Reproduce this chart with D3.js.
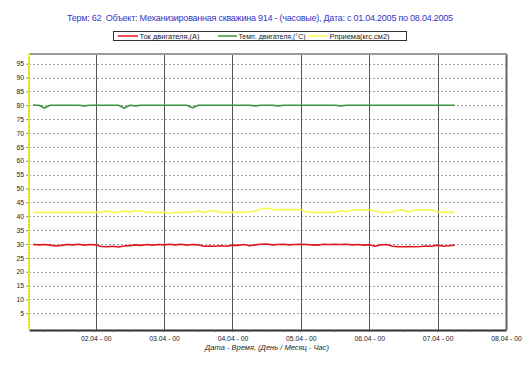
<!DOCTYPE html>
<html>
<head>
<meta charset="utf-8">
<script src="https://cdn.jsdelivr.net/npm/d3@7.9.0/dist/d3.min.js"></script>
<style>
  body { margin: 0; background: #fff; }
  svg { font-family: "Liberation Sans", Arial, sans-serif; }
</style>
</head>
<body>
<svg id="chart" width="523" height="367"></svg>
<script>
// --- data (hourly readings, every 2nd hour) ---
const titleText = 'Терм: 62\u00a0\u00a0Объект: Механизированная скважина 914 - (часовые), Дата: с 01.04.2005 по 08.04.2005';
const seriesNames = ['Ток двигателя,(А)', 'Темп. двигателя,(°С)', 'Рприема(кгс.см2)'];
const seriesColors = ['#e0161e', '#39963a', '#f7f750'];
const yTicks = [5, 10, 15, 20, 25, 30, 35, 40, 45, 50, 55, 60, 65, 70, 75, 80, 85, 90, 95];
const dayTicks = ['02.04 - 00', '03.04 - 00', '04.04 - 00', '05.04 - 00', '06.04 - 00', '07.04 - 00', '08.04 - 00'];

const tokDvig = [29.8, 29.7, 29.8, 29.6, 29.3, 29.5, 29.8, 29.7, 29.9, 29.6, 29.8, 29.7, 29.1, 29.0, 29.2, 28.9,
  29.3, 29.4, 29.7, 29.5, 29.8, 29.6, 29.8, 29.7, 29.9, 29.7, 29.9, 29.6, 29.8, 29.7, 29.2, 29.3,
  29.2, 29.4, 29.2, 29.6, 29.5, 29.8, 29.4, 29.7, 29.9, 30.0, 29.7, 29.8, 29.9, 29.7, 29.8, 29.9,
  29.8, 29.7, 29.6, 29.9, 29.8, 29.9, 29.8, 29.9, 29.7, 29.8, 29.6, 29.7, 29.2, 29.7, 29.8, 29.3,
  29.0, 29.0, 29.1, 29.0, 29.1, 29.3, 29.2, 29.6, 29.2, 29.4, 29.6, 29.3];

const tempDvig = [80.1, 80.0, 79.0, 80.0, 80.0, 80.0, 80.0, 80.0, 80.0, 79.8, 80.0, 80.0, 80.0, 80.0, 80.0, 80.0,
  79.0, 80.0, 79.8, 80.0, 80.0, 80.0, 80.0, 80.0, 80.0, 80.0, 80.0, 80.0, 79.1, 80.0, 80.0, 80.0,
  80.0, 80.0, 80.0, 80.0, 80.0, 80.0, 80.0, 79.8, 80.0, 80.0, 80.0, 79.8, 80.0, 80.0, 80.0, 80.0,
  80.0, 80.0, 80.0, 80.0, 80.0, 80.0, 79.8, 80.0, 80.0, 80.0, 80.0, 80.0, 80.0, 80.0, 80.0, 80.0,
  80.0, 80.0, 80.0, 80.0, 80.0, 80.0, 80.0, 80.0, 80.0, 80.0, 80.0, 80.0];

const pPriema = [41.4, 41.4, 41.4, 41.4, 41.4, 41.4, 41.4, 41.4, 41.4, 41.4, 41.4, 41.4, 41.4, 42.0, 41.4, 41.5,
  41.9, 41.5, 42.0, 41.9, 41.4, 41.4, 41.4, 41.4, 41.0, 41.4, 41.4, 41.4, 41.6, 42.0, 41.4, 41.9,
  42.0, 41.4, 41.4, 41.4, 41.4, 41.5, 41.6, 41.9, 42.6, 43.0, 42.5, 42.4, 42.4, 42.4, 42.4, 42.4,
  41.5, 41.4, 41.4, 41.4, 41.4, 41.4, 42.0, 41.6, 42.3, 42.3, 42.3, 42.3, 42.0, 41.4, 41.4, 41.5,
  42.2, 42.3, 41.6, 42.2, 42.3, 42.3, 42.3, 41.6, 41.4, 41.4, 41.4, 41.4];

// timestamps: 01.04.2005 01:00, every 2 hours
const times = d3.timeHour.every(2).range(new Date(2005, 3, 1, 1), new Date(2005, 3, 7, 8));
const allSeries = [tokDvig, tempDvig, pPriema];

// --- layout ---
const svg = d3.select('#chart');
const mLeft = 29, mRight = 506, mTop = 54, mBottom = 330;

const x = d3.scaleTime()
  .domain([new Date(2005, 3, 1, 0, 36), new Date(2005, 3, 8, 0)])
  .range([mLeft, mRight]);
const y = d3.scaleLinear().domain([-1, 98.5]).range([mBottom, mTop]);

// title
svg.append('text')
  .attr('x', 67).attr('y', 21)
  .attr('font-size', 9)
  .attr('textLength', 386)
  .attr('lengthAdjust', 'spacing')
  .attr('fill', '#3535c8')
  .text(titleText);

// legend
const lg = svg.append('g');
lg.append('rect')
  .attr('x', 113.5).attr('y', 31.5).attr('width', 293).attr('height', 9)
  .attr('fill', '#fff').attr('stroke', '#333').attr('stroke-width', 1);
const legendX = [118, 218, 308];
const legendLen = [20, 19, 20];
const legendTextW = [60, 67, 60];
seriesNames.forEach((name, i) => {
  lg.append('line')
    .attr('x1', legendX[i]).attr('x2', legendX[i] + legendLen[i])
    .attr('y1', 36).attr('y2', 36)
    .attr('stroke', seriesColors[i]).attr('stroke-width', 1.5);
  lg.append('text')
    .attr('x', legendX[i] + legendLen[i] + 1.5).attr('y', 38.5)
    .attr('font-size', 6.8).attr('fill', '#222')
    .attr('textLength', legendTextW[i]).attr('lengthAdjust', 'spacingAndGlyphs')
    .text(name);
});

// horizontal dotted grid
svg.append('g')
  .selectAll('line')
  .data(yTicks)
  .join('line')
  .attr('x1', mLeft).attr('x2', mRight)
  .attr('y1', d => Math.round(y(d)) + 0.5).attr('y2', d => Math.round(y(d)) + 0.5)
  .attr('stroke', '#a0a0a0').attr('stroke-dasharray', '2,2');

// day grid lines
const dayDates = d3.timeDay.range(new Date(2005, 3, 2), new Date(2005, 3, 8, 1));
svg.append('g')
  .selectAll('line')
  .data(dayDates)
  .join('line')
  .attr('x1', d => Math.round(x(d)) + 0.5).attr('x2', d => Math.round(x(d)) + 0.5)
  .attr('y1', mTop).attr('y2', mBottom)
  .attr('stroke', (d, i) => i === dayDates.length - 1 ? '#666' : '#555')
  .attr('stroke-width', (d, i) => i === dayDates.length - 1 ? 2 : 1);

// top frame
svg.append('line')
  .attr('x1', mLeft).attr('x2', mRight + 1).attr('y1', mTop).attr('y2', mTop)
  .attr('stroke', '#999').attr('stroke-width', 2);

// series lines
const line = d3.line()
  .x((d, i) => x(times[i]))
  .y(d => y(d));
[2, 0, 1].forEach(k => {
  svg.append('path')
    .datum(allSeries[k])
    .attr('d', line)
    .attr('fill', 'none')
    .attr('stroke', seriesColors[k])
    .attr('stroke-width', 1.6)
    .attr('stroke-linejoin', 'round');
});

// bottom axis
const xAxis = d3.axisBottom(x)
  .tickValues(dayDates)
  .tickFormat((d, i) => dayTicks[i])
  .tickSize(0).tickPadding(6);
const gx = svg.append('g').attr('transform', `translate(0,${mBottom})`).call(xAxis);
gx.select('.domain').attr('stroke', '#333').attr('stroke-width', 2);
gx.selectAll('text').attr('font-size', 6.8).attr('fill', '#222')
  .attr('font-family', '"Liberation Sans", Arial, sans-serif');

// minor ticks every 6 hours
svg.append('g')
  .selectAll('line')
  .data(d3.timeHour.every(6).range(new Date(2005, 3, 1, 6), new Date(2005, 3, 8)))
  .join('line')
  .attr('x1', d => x(d)).attr('x2', d => x(d))
  .attr('y1', mBottom).attr('y2', mBottom + 2)
  .attr('stroke', '#555');

// left axis (yellow, like the pressure series)
const yAxis = d3.axisLeft(y).tickValues(yTicks).tickSize(3).tickPadding(2);
const gy = svg.append('g').attr('transform', `translate(${mLeft},0)`).call(yAxis);
gy.select('.domain').remove();
gy.selectAll('.tick line').attr('stroke', '#888');
gy.selectAll('text').attr('font-size', 6.8).attr('fill', '#222')
  .attr('font-family', '"Liberation Sans", Arial, sans-serif');
svg.append('line')
  .attr('x1', mLeft).attr('x2', mLeft).attr('y1', mTop - 1).attr('y2', mBottom)
  .attr('stroke', '#f0f03a').attr('stroke-width', 2);
// minor ticks on the yellow axis
svg.append('g')
  .selectAll('line')
  .data(d3.range(1, 98))
  .join('line')
  .attr('x1', mLeft - 1).attr('x2', mLeft + 1)
  .attr('y1', d => y(d)).attr('y2', d => y(d))
  .attr('stroke', '#b8b820').attr('stroke-width', 0.6);

// axis title
svg.append('text')
  .attr('x', 267).attr('y', 350)
  .attr('text-anchor', 'middle')
  .attr('font-size', 7.5).attr('font-style', 'italic')
  .attr('fill', '#222')
  .text('Дата - Время, (День / Месяц - Час)');
</script>
</body>
</html>
